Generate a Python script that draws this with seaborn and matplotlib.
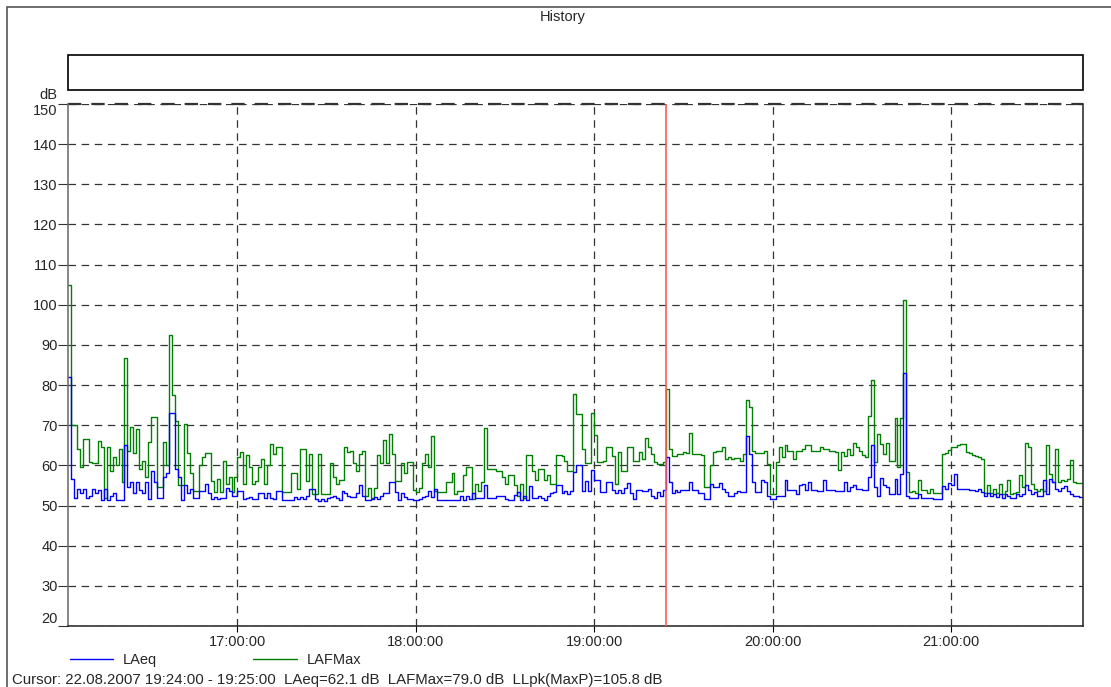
import numpy as np
import pandas as pd
import seaborn as sns
import matplotlib.pyplot as plt
from matplotlib.lines import Line2D
from matplotlib.patches import Rectangle

# one value per minute, first minute starts 16:03
start_hour = 16 + 3 / 60
cursor_minute = 201  # 19:24

laeq_a = [82, 56.7, 52, 54, 53, 54, 52, 52.5, 54, 53, 53.8, 51.3, 54, 51.5, 52.5, 53, 51.3, 51.5, 51.3, 65,
          54.6, 55.8, 53, 55.8, 53.8, 53, 55.8, 51.7, 58.7, 55.8, 52, 52, 57, 58, 73, 73, 59, 57, 51.3, 55,
          53, 54, 51.8, 51.8]
laeq_b = [53.5, 53.5, 55.4, 53, 51.7, 52.2, 51.7, 52, 52, 54.4, 53.5, 52.5, 52.5, 53.6, 53.6, 51.7, 52, 52.2,
          51.7, 51.7, 53, 53, 52, 53, 52, 51.7, 53.6, 53.6, 51.4, 51.4, 51.4, 51.4, 52.2, 51.7, 52.2, 51.7,
          52.5, 54.2, 54.2, 51.7, 51.2, 51.7, 51.2]
laeq_c = [51.9, 52.2, 52.5, 51.9, 51.3, 53.6, 53, 52.5, 52.1, 52.1, 53, 55.2, 52.5, 51.3, 51.3, 51.7, 52.1,
          51.7, 52.5, 53, 53, 55.8, 55.8, 53.3, 51.3, 53, 52.1, 51.7, 51.7, 51.3, 51.3, 51.7, 52.1, 52.5,
          53.6, 52.1, 54.2, 51.5, 51.5, 51.5, 51.5, 51.5, 51.5]
laeq_d = [51.5, 51.5, 52.5, 51.5, 52.5, 51.7, 53, 51.8, 51.8, 51.8, 55, 52, 52, 51.8, 52.5, 52.3, 52.5, 51.7,
          51.5, 51.5, 52.6, 53.3, 51.5, 52.5, 51.3, 54.8, 52, 52, 52.3, 52, 51.5, 52.4, 53.2, 53.4, 55, 55,
          53, 53.6, 52.8, 53.5, 58.3, 60, 60]
laeq_e = [53.6, 56, 53.6, 58.9, 56.4, 56.4, 53.3, 53.3, 55.8, 55.8, 53.9, 53, 53.9, 53, 54.4, 55.6, 53, 51.7,
          53.8, 53.8, 53.6, 53.6, 54.2, 52.3, 52, 53.4, 52.3, 53.9, 62.1, 55.8, 53.1, 53.8, 53.3, 53.9, 53.9,
          53.9, 55.8, 53.8, 53.8, 53, 53, 51.7, 51.7]
laeq_f = [55.3, 54.6, 54.6, 55.6, 54.2, 53.3, 52.5, 52.5, 53, 53.5, 53.3, 53.3, 67.2, 62.9, 55.8, 53.3, 53.3,
          56.3, 55.8, 52.5, 51.7, 51.7, 52.5, 52.5, 52.5, 56.3, 53.8, 53.8, 53.8, 52.9, 55, 55.4, 53.9, 55.8,
          53.9, 53.9, 53.6, 53.6, 56.3, 53.9, 53.9, 53.9, 53.6]
laeq_g = [53.6, 53.6, 55.8, 53.6, 54.6, 55, 54.2, 54.2, 53.9, 53.9, 57.2, 65.2, 54.6, 52.5, 56.9, 55, 54.6,
          52.9, 52.9, 56.7, 52.9, 57.9, 82.9, 52.5, 51.9, 51.9, 51.9, 52.9, 52, 52, 51.9, 51.9, 51.7, 51.7,
          51.7, 54.8, 54.2, 55.6, 55, 57.9, 54.2, 54.2, 54.2]
laeq_h = [54.2, 53.9, 53.8, 53.6, 54.2, 53.3, 52.3, 53.1, 52.3, 52.9, 52.1, 52.9, 51.9, 52.9, 52.5, 51.9, 51.9,
          52.9, 52.5, 52.9, 55.2, 53.9, 52.9, 53.3, 52.5, 52.3, 56.4, 52.9, 56.7, 55.8, 54.2, 53.6, 54.4, 54.8,
          53.6, 52.9, 52.5, 52.5, 52.1]

lafmax_a = [105, 70, 70, 64, 59.5, 66.5, 66.5, 60.8, 60.5, 60.5, 66, 64.5, 52, 64.7, 58.7, 62, 60, 64, 55.8, 86.7,
            63.7, 69.6, 63, 69, 59, 61, 57, 65.8, 72, 72, 54.6, 54.6, 65.8, 60, 92.5, 77.5, 71, 55, 55, 70.4,
            63, 58, 53.7, 53.7]
lafmax_b = [60, 62, 63, 63, 56, 53.3, 56.7, 53.3, 61, 55.4, 57, 53.3, 57, 62, 63.3, 55.4, 62.5, 59.6, 55.4, 56,
            59.6, 61.7, 55.4, 60, 65.4, 62.9, 64.6, 64.6, 53.3, 53.3, 53.3, 58, 58, 54, 64, 64, 56, 62.9, 52.9,
            52.9, 62.9, 52.9, 52.9]
lafmax_c = [52.9, 60.6, 57, 55.3, 56.4, 56.4, 64.6, 63.3, 63.7, 60.5, 58.7, 62.9, 63.7, 52.5, 54.4, 52, 54.4,
            62.5, 60.5, 66.3, 60.5, 67.7, 62.9, 56, 56, 60.5, 58, 60.8, 60.8, 53.9, 53.3, 54.4, 60.5, 62.9, 59.6,
            67.3, 53.6, 53.3, 53.3, 53.3, 55.8, 55.8, 58]
lafmax_d = [52.9, 53.6, 53.5, 57.5, 59.6, 59.6, 51.7, 55.4, 53.5, 55.8, 69.4, 59.2, 59, 59.2, 58.7, 58.7, 57,
            55.3, 57.7, 57.5, 55, 52.3, 55.3, 52, 62.7, 62.7, 58.5, 56.3, 59.2, 59.2, 56.3, 57.5, 55.4, 55.4,
            62.7, 62.7, 62.3, 61, 58.5, 58.5, 77.9, 72.9, 72.9]
lafmax_e = [64, 60.6, 60.6, 73, 67.5, 60.8, 60.8, 61.2, 64.7, 64.7, 62.3, 55.4, 63.3, 58.7, 58.7, 64.7, 64.7,
            61.2, 61.2, 63.3, 61.7, 66.7, 64.7, 62.9, 60.8, 60.3, 60.3, 60.8, 79, 64, 62.3, 62.3, 62.9, 62.9,
            63.3, 63, 68, 62.9, 62.9, 62.9, 62.5, 54.6, 54.6]
lafmax_f = [60, 63.3, 63.7, 63.7, 64.7, 61.7, 62, 61.7, 61.9, 61.9, 61.2, 62.9, 76.4, 74.6, 63.6, 63.2, 63.2,
            63.2, 63.7, 60.4, 52.9, 52.9, 60.8, 64.6, 62, 65, 63.7, 63.7, 61.7, 63.7, 63.7, 64, 65.2, 65.2,
            63.6, 63.7, 63.7, 64.7, 64, 64, 63.7, 63.7, 63.3]
lafmax_g = [58.9, 63.3, 62.3, 64.2, 62.5, 65.6, 64.7, 63.7, 62.7, 62.1, 72.2, 81.2, 60.8, 67.9, 65.4, 62.9,
            65.6, 61.2, 61, 71.9, 59.6, 71.9, 101.2, 58.3, 53.3, 53.6, 53, 56.4, 53.9, 53.9, 53, 54.2, 53, 53,
            53, 62.9, 63, 63.9, 64.6, 64.7, 65.2, 65.4, 65.4]
lafmax_h = [63.3, 63, 62.7, 62.3, 62, 61.7, 53.1, 55, 53.1, 54, 53.1, 55.4, 52.9, 53.7, 56.4, 52.9, 53.1, 53.3,
            57.5, 54.6, 65.6, 64.7, 55.4, 54.2, 53.7, 54, 53.5, 65.2, 57.9, 55.8, 64.2, 55.8, 56.3, 56, 56.5,
            61.4, 55.8, 55.6, 55.6]

hour_ticks = [17, 18, 19, 20, 21]
hour_labels = ['17:00:00', '18:00:00', '19:00:00', '20:00:00', '21:00:00']
db_ticks = [20, 30, 40, 50, 60, 70, 80, 90, 100, 110, 120, 130, 140, 150]

laeq = laeq_a + laeq_b + laeq_c + laeq_d + laeq_e + laeq_f + laeq_g + laeq_h
lafmax = lafmax_a + lafmax_b + lafmax_c + lafmax_d + lafmax_e + lafmax_f + lafmax_g + lafmax_h
n = len(laeq)
t = start_hour + np.arange(n + 1) / 60

# last value repeated so the final step has its width
df = pd.DataFrame({
    'hora': np.concatenate([t, t]),
    'dB': lafmax + [lafmax[-1]] + laeq + [laeq[-1]],
    'serie': ['LAFMax'] * (n + 1) + ['LAeq'] * (n + 1),
})

sns.set_style('white')
plt.rcParams['font.family'] = ['Liberation Sans', 'DejaVu Sans']
fs = 10.5

W, H = 1111, 687
fig = plt.figure(figsize=(W / 100, H / 100), dpi=100)
ax = fig.add_axes([68 / W, 1 - 626 / H, (1083 - 68) / W, (626 - 104) / H])

sns.lineplot(data=df, x='hora', y='dB', hue='serie', hue_order=['LAFMax', 'LAeq'],
             palette={'LAeq': '#0000ff', 'LAFMax': '#008000'}, drawstyle='steps-post',
             linewidth=1, estimator=None, sort=False, legend=False, ax=ax)

ax.axvline(start_hour + cursor_minute / 60, color='#ff5a5a', lw=1.2, zorder=5)

ax.set_xlim(start_hour, start_hour + 341.4 / 60)
ax.set_ylim(20, 150)
ax.set_xticks(hour_ticks)
ax.set_xticklabels(hour_labels, fontsize=fs)
ax.set_yticks(db_ticks)
ylabels = ax.set_yticklabels([str(v) for v in db_ticks], fontsize=fs)
ylabels[-1].set_verticalalignment('top')     # 150 sits under the top edge
ylabels[0].set_verticalalignment('bottom')   # 20 sits over the bottom edge
ax.set_xlabel('')
ax.set_ylabel('')
# seaborn's white style switches tick marks off, turn them back on
ax.tick_params(axis='x', bottom=True, direction='out', length=4, width=0.8, color='black', pad=2.5)
ax.tick_params(axis='y', left=True, direction='out', length=7, width=0.8, color='#333333', pad=0.5)

ax.grid(True, color='#333333', linestyle=(0, (6, 4.5)), linewidth=0.9)
for s in ['left', 'right', 'bottom']:
    ax.spines[s].set_color('#222222')
    ax.spines[s].set_linewidth(1.1)
ax.spines['left'].set_color('#666666')
ax.spines['top'].set_visible(False)
ax.axhline(150, color='#333333', linestyle=(0, (6, 4.5)), linewidth=1.6, clip_on=False)

fig.text(48 / W, 1 - 95 / H, 'dB', fontsize=fs, ha='center', va='center')
fig.text(563 / W, 1 - 17 / H, 'History', fontsize=fs, ha='center', va='center')

# outer frame and empty band above the plot
fig.add_artist(Rectangle((7 / W, -0.05), 1.1, 1.05 - 7 / H, transform=fig.transFigure,
                         fill=False, edgecolor='#555555', lw=1.2))
fig.add_artist(Rectangle((68 / W, 1 - 90 / H), (1083 - 68) / W, 35 / H, transform=fig.transFigure,
                         fill=False, edgecolor='black', lw=1.2))

# legend below the axis
fig.add_artist(Line2D([70 / W, 113 / W], [1 - 659 / H] * 2, transform=fig.transFigure, color='#0000ff', lw=1))
fig.text(123 / W, 1 - 660 / H, 'LAeq', fontsize=fs, va='center')
fig.add_artist(Line2D([253 / W, 297 / W], [1 - 659 / H] * 2, transform=fig.transFigure, color='#008000', lw=1))
fig.text(307 / W, 1 - 660 / H, 'LAFMax', fontsize=fs, va='center')

fig.text(12 / W, 1 - 680 / H,
         'Cursor: 22.08.2007 19:24:00 - 19:25:00  LAeq=62.1 dB  LAFMax=79.0 dB  LLpk(MaxP)=105.8 dB',
         fontsize=10.8, va='center')

plt.savefig('out.png', dpi=100)
